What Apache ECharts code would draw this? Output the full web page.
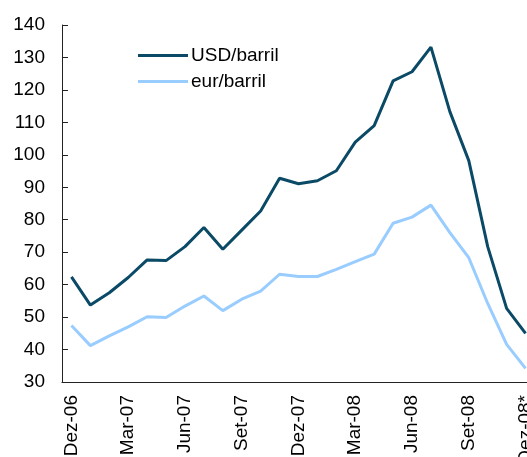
<!DOCTYPE html>
<html>
<head>
<meta charset="utf-8">
<script src="https://cdn.jsdelivr.net/npm/echarts@6/dist/echarts.min.js"></script>
<style>
  html, body { margin: 0; padding: 0; background: #fff; }
  #chart { width: 527px; height: 457px; }
</style>
</head>
<body>
<div id="chart"></div>
<script>
// meses: Dez-06 .. Dez-08*
const months = ['Dez-06', 'Jan-07', 'Fev-07', 'Mar-07', 'Abr-07', 'Mai-07', 'Jun-07', 'Jul-07', 'Ago-07',
  'Set-07', 'Out-07', 'Nov-07', 'Dez-07', 'Jan-08', 'Fev-08', 'Mar-08', 'Abr-08', 'Mai-08', 'Jun-08',
  'Jul-08', 'Ago-08', 'Set-08', 'Out-08', 'Nov-08', 'Dez-08*']
const usdBarril = [62.4, 53.7, 57.5, 62.2, 67.6, 67.4, 71.7, 77.6, 70.9, 76.8, 82.7, 92.8, 91.1,
  92.0, 95.1, 103.9, 109.0, 122.8, 125.6, 133.2, 113.3, 98.2, 71.7, 52.7, 45.0]
const eurBarril = [47.4, 41.2, 44.2, 47.0, 50.1, 49.9, 53.4, 56.5, 52.0, 55.5, 58.0, 63.2, 62.5,
  62.5, 64.7, 67.1, 69.4, 78.9, 80.8, 84.5, 76.0, 68.3, 54.2, 41.6, 34.2]

const font = 'Liberation Sans, Arial, sans-serif'
const chart = echarts.init(document.getElementById('chart'))
chart.setOption({
  animation: false,
  backgroundColor: '#fff',
  textStyle: { fontFamily: font },
  legend: {
    orient: 'vertical',
    left: 133,
    top: 41,
    itemWidth: 50,
    itemHeight: 3,
    itemGap: 7,
    icon: 'rect',
    textStyle: { fontSize: 19, color: '#000', fontFamily: font, padding: [0, 0, 0, -2] },
    data: ['USD/barril', 'eur/barril']
  },
  grid: { left: 62, top: 25, bottom: 75, width: 473, outerBoundsMode: 'none', containLabel: false },
  xAxis: {
    type: 'category',
    data: months,
    boundaryGap: true,
    axisLine: { lineStyle: { color: '#222', width: 1 } },
    axisTick: { inside: true, length: 6, lineStyle: { color: '#222' } },
    axisLabel: {
      interval: 2,
      rotate: 90,
      fontSize: 19,
      color: '#000',
      fontFamily: font,
      margin: 13
    },
    splitLine: { show: false }
  },
  yAxis: {
    type: 'value',
    min: 30,
    max: 140,
    interval: 10,
    axisLine: { show: true, lineStyle: { color: '#222', width: 1 } },
    axisTick: { show: true, inside: true, length: 6, lineStyle: { color: '#222' } },
    axisLabel: { fontSize: 19, color: '#000', fontFamily: font, margin: 17 },
    splitLine: { show: false }
  },
  series: [
    {
      name: 'USD/barril',
      type: 'line',
      data: usdBarril,
      symbol: 'none',
      color: '#0b4a66',
      lineStyle: { width: 3, color: '#0b4a66' }
    },
    {
      name: 'eur/barril',
      type: 'line',
      data: eurBarril,
      symbol: 'none',
      color: '#99ccff',
      lineStyle: { width: 3, color: '#99ccff' }
    }
  ]
})
</script>
</body>
</html>
